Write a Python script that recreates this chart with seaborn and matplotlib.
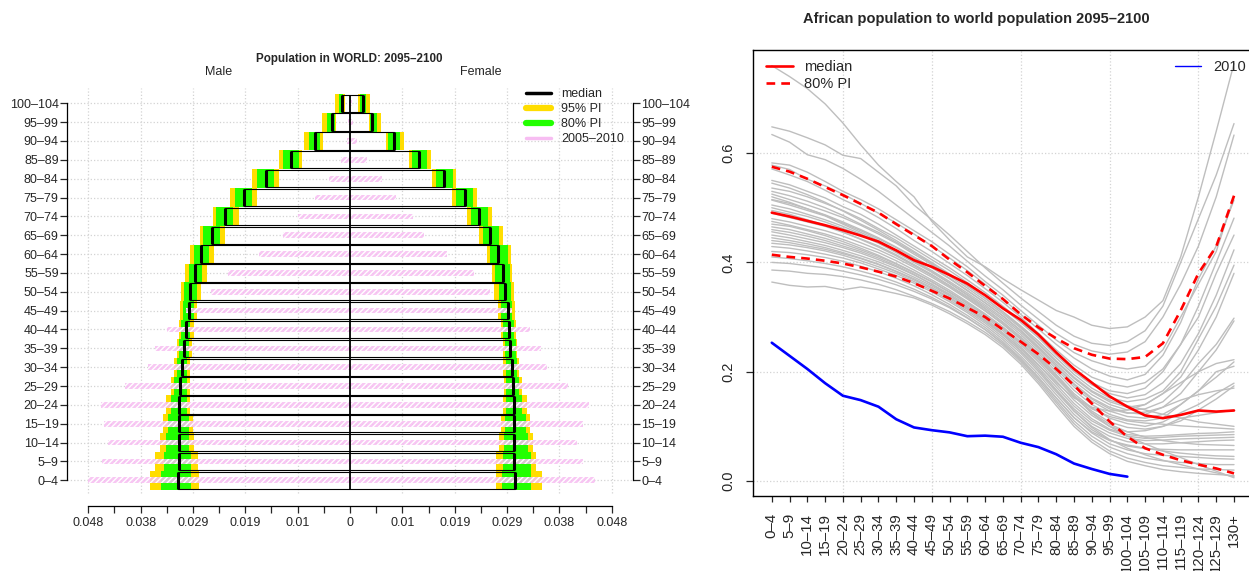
import numpy as np
import pandas as pd
import matplotlib
matplotlib.use("Agg")
import matplotlib.pyplot as plt
import seaborn as sns
from matplotlib.lines import Line2D

# ---------------- data: population pyramid (World, 2095-2100) ----------------
ages = ["0–4", "5–9", "10–14", "15–19", "20–24", "25–29", "30–34", "35–39",
        "40–44", "45–49", "50–54", "55–59", "60–64", "65–69", "70–74",
        "75–79", "80–84", "85–89", "90–94", "95–99", "100–104"]

male_median = [0.0315, 0.0313, 0.0313, 0.0313, 0.0313, 0.0312, 0.0308, 0.0305,
               0.0300, 0.0296, 0.0293, 0.0285, 0.0273, 0.0253, 0.0229, 0.0195,
               0.0154, 0.0108, 0.0064, 0.0033, 0.0015]
male_lo80 = [0.0291, 0.0291, 0.0295, 0.0296, 0.0299, 0.0299, 0.0299, 0.0296,
             0.0293, 0.0287, 0.0281, 0.0272, 0.0258, 0.0238, 0.0214, 0.0180,
             0.0140, 0.0094, 0.0055, 0.0028, 0.0012]
male_hi80 = [0.0346, 0.0341, 0.0338, 0.0334, 0.0329, 0.0323, 0.0318, 0.0313,
             0.0310, 0.0307, 0.0304, 0.0296, 0.0287, 0.0269, 0.0245, 0.0211,
             0.0171, 0.0122, 0.0076, 0.0042, 0.0021]
male_lo95 = [0.0277, 0.0278, 0.0286, 0.0288, 0.0294, 0.0294, 0.0294, 0.0290,
             0.0287, 0.0280, 0.0274, 0.0263, 0.0250, 0.0229, 0.0204, 0.0171,
             0.0131, 0.0088, 0.0050, 0.0025, 0.0010]
male_hi95 = [0.0367, 0.0357, 0.0348, 0.0343, 0.0337, 0.0328, 0.0323, 0.0318,
             0.0313, 0.0312, 0.0310, 0.0302, 0.0294, 0.0276, 0.0252, 0.0220,
             0.0179, 0.0131, 0.0084, 0.0051, 0.0027]

female_median = [0.0302, 0.0301, 0.0301, 0.0301, 0.0300, 0.0299, 0.0297, 0.0293,
                 0.0291, 0.0289, 0.0284, 0.0280, 0.0272, 0.0256, 0.0237, 0.0211,
                 0.0173, 0.0127, 0.0081, 0.0041, 0.0023]
female_lo80 = [0.0279, 0.0280, 0.0283, 0.0284, 0.0286, 0.0286, 0.0286, 0.0284,
               0.0281, 0.0277, 0.0274, 0.0266, 0.0257, 0.0243, 0.0222, 0.0194,
               0.0157, 0.0113, 0.0070, 0.0037, 0.0018]
female_hi80 = [0.0332, 0.0332, 0.0327, 0.0323, 0.0316, 0.0310, 0.0307, 0.0304,
               0.0300, 0.0298, 0.0295, 0.0294, 0.0289, 0.0274, 0.0253, 0.0225,
               0.0188, 0.0141, 0.0091, 0.0050, 0.0030]
female_lo95 = [0.0267, 0.0267, 0.0274, 0.0277, 0.0281, 0.0282, 0.0281, 0.0280,
               0.0277, 0.0271, 0.0264, 0.0260, 0.0251, 0.0237, 0.0215, 0.0187,
               0.0150, 0.0108, 0.0066, 0.0034, 0.0015]
female_hi95 = [0.0353, 0.0342, 0.0336, 0.0330, 0.0324, 0.0315, 0.0310, 0.0306,
               0.0304, 0.0303, 0.0301, 0.0298, 0.0295, 0.0280, 0.0261, 0.0233,
               0.0195, 0.0149, 0.0099, 0.0056, 0.0037]

male_2010 = [0.0481, 0.0455, 0.0443, 0.0452, 0.0457, 0.0412, 0.0370, 0.0357,
             0.0336, 0.0301, 0.0255, 0.0223, 0.0166, 0.0122, 0.0096, 0.0065,
             0.0038, 0.0017, 0.0006, 0.0003, 0.0001]
female_2010 = [0.0450, 0.0427, 0.0417, 0.0428, 0.0438, 0.0400, 0.0361, 0.0351,
               0.0331, 0.0298, 0.0257, 0.0228, 0.0177, 0.0136, 0.0116, 0.0085,
               0.0058, 0.0032, 0.0012, 0.0006, 0.0003]

# ---------------- data: African / world ratio ----------------
ages_long = ages + ["105–109", "110–114", "115–119", "120–124", "125–129", "130+"]

ratio_median = [0.491, 0.484, 0.476, 0.468, 0.459, 0.449, 0.438, 0.422, 0.404,
                0.392, 0.377, 0.361, 0.340, 0.316, 0.295, 0.268, 0.235, 0.205,
                0.180, 0.155, 0.136, 0.120, 0.115, 0.121, 0.129, 0.127, 0.129]
ratio_hi80 = [0.575, 0.566, 0.553, 0.538, 0.523, 0.507, 0.491, 0.470, 0.450,
              0.430, 0.405, 0.382, 0.357, 0.333, 0.305, 0.281, 0.261, 0.243,
              0.231, 0.224, 0.223, 0.227, 0.252, 0.312, 0.380, 0.429, 0.522]
ratio_lo80 = [0.414, 0.410, 0.407, 0.403, 0.398, 0.391, 0.383, 0.374, 0.362,
              0.348, 0.334, 0.317, 0.300, 0.277, 0.255, 0.232, 0.205, 0.175,
              0.142, 0.109, 0.081, 0.060, 0.048, 0.038, 0.030, 0.023, 0.014]
ratio_2010 = [0.253, 0.229, 0.205, 0.179, 0.156, 0.148, 0.136, 0.113, 0.098,
              0.093, 0.089, 0.082, 0.083, 0.081, 0.070, 0.062, 0.049, 0.032,
              0.022, 0.013, 0.008]

traj01 = [0.760, 0.740, 0.718, 0.690, 0.655, 0.615, 0.578, 0.548, 0.520, 0.475, 0.441, 0.410, 0.392, 0.370, 0.350, 0.331, 0.312, 0.300, 0.285, 0.279, 0.282, 0.300, 0.330, 0.410, 0.520, 0.640, 0.764]
traj02 = [0.648, 0.640, 0.628, 0.615, 0.596, 0.590, 0.565, 0.540, 0.505, 0.478, 0.450, 0.420, 0.390, 0.362, 0.335, 0.310, 0.285, 0.265, 0.252, 0.248, 0.255, 0.275, 0.320, 0.400, 0.480, 0.560, 0.654]
traj03 = [0.634, 0.620, 0.597, 0.588, 0.572, 0.552, 0.530, 0.505, 0.480, 0.455, 0.430, 0.402, 0.375, 0.350, 0.322, 0.296, 0.270, 0.250, 0.238, 0.232, 0.236, 0.255, 0.300, 0.360, 0.430, 0.520, 0.633]
traj04 = [0.582, 0.578, 0.565, 0.548, 0.530, 0.515, 0.498, 0.478, 0.458, 0.438, 0.415, 0.392, 0.365, 0.340, 0.312, 0.285, 0.258, 0.235, 0.220, 0.210, 0.205, 0.210, 0.240, 0.300, 0.360, 0.420, 0.520]
traj05 = [0.578, 0.570, 0.552, 0.540, 0.525, 0.508, 0.490, 0.472, 0.452, 0.430, 0.408, 0.385, 0.360, 0.333, 0.305, 0.278, 0.250, 0.225, 0.205, 0.192, 0.185, 0.195, 0.230, 0.290, 0.370, 0.430, 0.514]
traj06 = [0.571, 0.560, 0.548, 0.532, 0.515, 0.500, 0.482, 0.462, 0.440, 0.420, 0.398, 0.376, 0.352, 0.327, 0.300, 0.270, 0.240, 0.212, 0.190, 0.178, 0.172, 0.180, 0.205, 0.250, 0.320, 0.400, 0.481]
traj07 = [0.550, 0.542, 0.530, 0.518, 0.502, 0.488, 0.470, 0.450, 0.430, 0.410, 0.390, 0.368, 0.345, 0.320, 0.293, 0.265, 0.235, 0.205, 0.180, 0.165, 0.160, 0.170, 0.200, 0.250, 0.300, 0.380, 0.450]
traj08 = [0.536, 0.530, 0.520, 0.508, 0.495, 0.480, 0.462, 0.445, 0.425, 0.405, 0.385, 0.363, 0.340, 0.316, 0.290, 0.262, 0.230, 0.200, 0.176, 0.160, 0.152, 0.158, 0.180, 0.215, 0.270, 0.340, 0.423]
traj09 = [0.530, 0.522, 0.512, 0.500, 0.486, 0.470, 0.455, 0.437, 0.418, 0.398, 0.378, 0.357, 0.335, 0.310, 0.284, 0.256, 0.225, 0.195, 0.170, 0.152, 0.145, 0.150, 0.165, 0.200, 0.260, 0.320, 0.395]
traj10 = [0.525, 0.515, 0.505, 0.494, 0.482, 0.468, 0.452, 0.435, 0.415, 0.396, 0.375, 0.353, 0.330, 0.306, 0.280, 0.250, 0.218, 0.188, 0.163, 0.145, 0.135, 0.140, 0.160, 0.190, 0.240, 0.300, 0.380]
traj11 = [0.520, 0.510, 0.498, 0.486, 0.472, 0.458, 0.443, 0.427, 0.408, 0.390, 0.370, 0.348, 0.326, 0.302, 0.276, 0.246, 0.214, 0.183, 0.158, 0.140, 0.130, 0.132, 0.145, 0.175, 0.215, 0.250, 0.298]
traj12 = [0.514, 0.505, 0.495, 0.485, 0.470, 0.455, 0.440, 0.422, 0.404, 0.385, 0.365, 0.344, 0.322, 0.298, 0.272, 0.242, 0.210, 0.178, 0.152, 0.135, 0.125, 0.122, 0.135, 0.160, 0.200, 0.240, 0.293]
traj13 = [0.500, 0.492, 0.484, 0.474, 0.462, 0.450, 0.435, 0.418, 0.400, 0.382, 0.362, 0.341, 0.319, 0.295, 0.268, 0.238, 0.205, 0.172, 0.146, 0.128, 0.118, 0.115, 0.122, 0.140, 0.165, 0.190, 0.218]
traj14 = [0.490, 0.482, 0.474, 0.466, 0.455, 0.443, 0.430, 0.414, 0.396, 0.378, 0.358, 0.337, 0.315, 0.291, 0.264, 0.234, 0.200, 0.166, 0.140, 0.122, 0.112, 0.110, 0.115, 0.140, 0.165, 0.200, 0.210]
traj15 = [0.480, 0.474, 0.466, 0.458, 0.448, 0.436, 0.423, 0.408, 0.391, 0.373, 0.354, 0.333, 0.311, 0.287, 0.260, 0.229, 0.195, 0.160, 0.134, 0.115, 0.105, 0.100, 0.108, 0.125, 0.140, 0.160, 0.179]
traj16 = [0.475, 0.468, 0.460, 0.452, 0.442, 0.430, 0.418, 0.403, 0.386, 0.368, 0.349, 0.328, 0.306, 0.282, 0.255, 0.224, 0.189, 0.154, 0.128, 0.108, 0.098, 0.095, 0.100, 0.110, 0.130, 0.150, 0.174]
traj17 = [0.465, 0.460, 0.452, 0.444, 0.434, 0.423, 0.411, 0.397, 0.381, 0.364, 0.345, 0.325, 0.303, 0.278, 0.250, 0.218, 0.183, 0.148, 0.120, 0.100, 0.090, 0.092, 0.100, 0.115, 0.120, 0.125, 0.130]
traj18 = [0.456, 0.450, 0.443, 0.436, 0.427, 0.417, 0.405, 0.392, 0.377, 0.360, 0.342, 0.322, 0.300, 0.275, 0.246, 0.213, 0.177, 0.142, 0.114, 0.095, 0.085, 0.082, 0.083, 0.085, 0.087, 0.088, 0.090]
traj19 = [0.450, 0.445, 0.438, 0.431, 0.422, 0.412, 0.401, 0.388, 0.373, 0.357, 0.339, 0.319, 0.297, 0.271, 0.242, 0.208, 0.172, 0.137, 0.110, 0.093, 0.082, 0.078, 0.080, 0.082, 0.083, 0.084, 0.085]
traj20 = [0.440, 0.436, 0.430, 0.424, 0.416, 0.407, 0.396, 0.383, 0.368, 0.352, 0.334, 0.314, 0.292, 0.267, 0.238, 0.204, 0.167, 0.132, 0.105, 0.088, 0.078, 0.074, 0.075, 0.077, 0.078, 0.079, 0.080]
traj21 = [0.435, 0.432, 0.427, 0.421, 0.413, 0.403, 0.392, 0.380, 0.365, 0.349, 0.331, 0.311, 0.289, 0.263, 0.234, 0.200, 0.163, 0.128, 0.100, 0.082, 0.072, 0.068, 0.068, 0.070, 0.072, 0.074, 0.075]
traj22 = [0.429, 0.426, 0.421, 0.415, 0.408, 0.399, 0.388, 0.376, 0.362, 0.346, 0.328, 0.308, 0.285, 0.259, 0.229, 0.195, 0.158, 0.122, 0.094, 0.075, 0.064, 0.059, 0.058, 0.057, 0.057, 0.057, 0.057]
traj23 = [0.420, 0.418, 0.414, 0.409, 0.402, 0.393, 0.383, 0.371, 0.357, 0.341, 0.323, 0.303, 0.281, 0.255, 0.225, 0.190, 0.152, 0.116, 0.088, 0.068, 0.057, 0.050, 0.047, 0.045, 0.043, 0.041, 0.040]
traj24 = [0.410, 0.407, 0.403, 0.398, 0.392, 0.384, 0.375, 0.364, 0.351, 0.336, 0.319, 0.299, 0.277, 0.251, 0.221, 0.186, 0.147, 0.110, 0.082, 0.062, 0.050, 0.042, 0.037, 0.034, 0.032, 0.030, 0.030]
traj25 = [0.386, 0.384, 0.380, 0.378, 0.374, 0.368, 0.360, 0.350, 0.338, 0.325, 0.310, 0.292, 0.272, 0.248, 0.218, 0.182, 0.143, 0.105, 0.076, 0.055, 0.042, 0.034, 0.028, 0.025, 0.022, 0.021, 0.020]
traj26 = [0.364, 0.358, 0.355, 0.356, 0.350, 0.355, 0.350, 0.343, 0.335, 0.322, 0.306, 0.288, 0.268, 0.244, 0.214, 0.178, 0.138, 0.100, 0.071, 0.050, 0.036, 0.028, 0.021, 0.017, 0.014, 0.012, 0.010]
traj27 = [0.460, 0.455, 0.448, 0.440, 0.430, 0.420, 0.408, 0.394, 0.378, 0.360, 0.340, 0.318, 0.294, 0.268, 0.238, 0.204, 0.166, 0.128, 0.098, 0.076, 0.060, 0.048, 0.038, 0.030, 0.022, 0.015, 0.008]
traj28 = [0.505, 0.498, 0.488, 0.478, 0.466, 0.452, 0.437, 0.420, 0.402, 0.383, 0.362, 0.340, 0.316, 0.290, 0.262, 0.230, 0.194, 0.156, 0.124, 0.100, 0.082, 0.068, 0.055, 0.043, 0.030, 0.018, 0.006]
traj29 = [0.545, 0.536, 0.524, 0.510, 0.494, 0.477, 0.459, 0.440, 0.420, 0.400, 0.379, 0.357, 0.334, 0.309, 0.282, 0.252, 0.220, 0.190, 0.165, 0.148, 0.138, 0.130, 0.122, 0.115, 0.108, 0.104, 0.100]
traj30 = [0.470, 0.466, 0.458, 0.449, 0.438, 0.426, 0.413, 0.398, 0.382, 0.365, 0.346, 0.326, 0.304, 0.280, 0.253, 0.222, 0.188, 0.156, 0.132, 0.118, 0.110, 0.106, 0.104, 0.101, 0.099, 0.097, 0.095]
traj31 = [0.445, 0.440, 0.434, 0.427, 0.418, 0.408, 0.397, 0.384, 0.370, 0.354, 0.336, 0.316, 0.294, 0.270, 0.243, 0.212, 0.180, 0.152, 0.135, 0.128, 0.130, 0.140, 0.160, 0.180, 0.200, 0.215, 0.222]
traj32 = [0.495, 0.488, 0.478, 0.468, 0.456, 0.442, 0.428, 0.412, 0.394, 0.376, 0.356, 0.335, 0.312, 0.287, 0.259, 0.227, 0.191, 0.155, 0.125, 0.104, 0.090, 0.080, 0.074, 0.070, 0.067, 0.066, 0.065]
traj33 = [0.515, 0.508, 0.498, 0.487, 0.474, 0.460, 0.445, 0.428, 0.410, 0.391, 0.371, 0.349, 0.326, 0.302, 0.275, 0.244, 0.210, 0.176, 0.150, 0.132, 0.124, 0.126, 0.135, 0.148, 0.158, 0.165, 0.170]
traj34 = [0.400, 0.398, 0.394, 0.390, 0.384, 0.377, 0.369, 0.359, 0.347, 0.333, 0.317, 0.298, 0.277, 0.252, 0.223, 0.189, 0.152, 0.116, 0.090, 0.074, 0.066, 0.060, 0.055, 0.051, 0.048, 0.046, 0.045]

trajectories = [traj01, traj02, traj03, traj04, traj05, traj06, traj07, traj08,
                traj09, traj10, traj11, traj12, traj13, traj14, traj15, traj16,
                traj17, traj18, traj19, traj20, traj21, traj22, traj23, traj24,
                traj25, traj26, traj27, traj28, traj29, traj30, traj31, traj32,
                traj33, traj34]

GOLD = "#FFDD00"
GREEN = "#22FF00"
PINK = "#F7BDF2"
GRID = "#D3D3D3"

sns.set_style("white")
plt.rcParams["font.family"] = ["Liberation Sans", "DejaVu Sans"]

W, H = 1249, 571
fig = plt.figure(figsize=(W / 100, H / 100), dpi=100)
axl = fig.add_axes([67 / W, 1 - 505.7 / H, (633 - 67) / W, (505.7 - 88) / H])
axr = fig.add_axes([753.3 / W, 1 - 495.5 / H, (1252.5 - 753.3) / W, (495.5 - 50) / H])

# ================= left: pyramid =================
ypos = np.arange(len(ages))
m_med, f_med = np.array(male_median), np.array(female_median)
xmax = 0.0519

for k in range(1, 6):
    for s in (-1, 1):
        axl.plot([s * k * 0.0096] * 2, [-0.67, 20.8], color=GRID, ls=":", lw=0.9, zorder=0)
for y in ypos:
    axl.plot([-xmax, xmax], [y, y], color=GRID, ls=":", lw=0.9, zorder=0)

# 95% and 80% intervals
axl.barh(ypos, np.subtract(male_hi95, male_lo95), left=-np.array(male_hi95),
         height=1.0, color=GOLD, lw=0, zorder=1)
axl.barh(ypos, np.subtract(female_hi95, female_lo95), left=female_lo95,
         height=1.0, color=GOLD, lw=0, zorder=1)
axl.barh(ypos, np.subtract(male_hi80, male_lo80), left=-np.array(male_hi80),
         height=1.0, color=GREEN, lw=0, zorder=2)
axl.barh(ypos, np.subtract(female_hi80, female_lo80), left=female_lo80,
         height=1.0, color=GREEN, lw=0, zorder=2)

# median boxes
axl.barh(ypos, m_med + f_med, left=-m_med, height=0.92, facecolor="none",
         edgecolor="black", lw=0.8, zorder=3)

# 2005-2010 observed
w10 = np.add(male_2010, female_2010)
axl.barh(ypos, w10, left=-np.array(male_2010), height=0.3, color=PINK,
         alpha=0.85, lw=0, zorder=4)
axl.barh(ypos, w10, left=-np.array(male_2010), height=0.3, facecolor="none",
         edgecolor="white", hatch="//////", lw=0, zorder=4)

axl.vlines(-m_med, ypos - 0.46, ypos + 0.46, color="black", lw=2.2, zorder=5)
axl.vlines(f_med, ypos - 0.46, ypos + 0.46, color="black", lw=2.2, zorder=5)
axl.vlines(0, -0.46, 20.46, color="black", lw=1.3, zorder=5)

axl.set_xlim(-xmax, xmax)
axl.set_ylim(-1.347, 20.81)
xt = np.arange(-10, 11) * 0.0048
axl.set_xticks(xt)
axl.set_xticklabels([f"{round(abs(v), 3):g}" if i % 2 == 0 else "" for i, v in enumerate(xt)])
axl.set_yticks(ypos)
axl.set_yticklabels(ages)
axl.tick_params(axis="y", left=True, right=True, labelleft=True, labelright=True,
                length=5, width=0.9, pad=1, labelsize=9)
axl.tick_params(axis="x", bottom=True, length=5, width=0.9, pad=3, labelsize=9)
axl.spines["top"].set_visible(False)
for sp in ("left", "right"):
    axl.spines[sp].set_bounds(0, 20)
axl.spines["bottom"].set_bounds(-0.048, 0.048)
for sp in ("left", "right", "bottom"):
    axl.spines[sp].set_color("black")
    axl.spines[sp].set_linewidth(0.9)

handles = [Line2D([], [], color="black", lw=2.5),
           Line2D([], [], color=GOLD, lw=4.5),
           Line2D([], [], color=GREEN, lw=4.5),
           Line2D([], [], color=PINK, lw=2.5)]
axl.legend(handles, ["median", "95% PI", "80% PI", "2005–2010"], loc="upper left",
           bbox_to_anchor=(526 / W, 1 - 88 / H), bbox_transform=fig.transFigure,
           frameon=False, fontsize=9, handlelength=2.0, handletextpad=0.8,
           labelspacing=0.25, borderpad=0, borderaxespad=0)

fig.text(349.5 / W, 1 - 59 / H, "Population in WORLD: 2095–2100", ha="center",
         va="center", fontsize=8.4, fontweight="bold")
fig.text(219 / W, 1 - 72 / H, "Male", ha="center", va="center", fontsize=9)
fig.text(480.5 / W, 1 - 72 / H, "Female", ha="center", va="center", fontsize=9)

# ================= right: ratio trajectories =================
xpos = np.arange(len(ages_long))
df = pd.DataFrame({
    "pos": np.tile(xpos, len(trajectories)),
    "ratio": np.concatenate(trajectories),
    "traj": np.repeat(np.arange(len(trajectories)), len(xpos)),
})
for v in (0, 0.2, 0.4, 0.6):
    axr.axhline(v, color=GRID, ls=":", lw=0.9, zorder=0)
for v in (4, 9, 14, 19, 24):
    axr.axvline(v, color=GRID, ls=":", lw=0.9, zorder=0)

sns.lineplot(data=df, x="pos", y="ratio", units="traj", estimator=None,
             color="#BEBEBE", lw=1, ax=axr, legend=False, zorder=1)
sns.lineplot(x=xpos, y=ratio_median, color="red", lw=1.9, ax=axr, zorder=3)
for band in (ratio_hi80, ratio_lo80):
    axr.plot(xpos, band, color="red", lw=1.9, dashes=(3.3, 2.3), zorder=3)
sns.lineplot(x=xpos[:len(ratio_2010)], y=ratio_2010, color="blue", lw=1.9, ax=axr, zorder=3)

axr.set_xlim(-1.04, 27.04)
axr.set_ylim(-0.0265, 0.7886)
axr.set_xticks(xpos)
axr.set_xticklabels(ages_long, rotation=90, va="top", ha="center")
axr.set_yticks([0, 0.2, 0.4, 0.6])
axr.set_yticklabels(["0.0", "0.2", "0.4", "0.6"], rotation=90, va="center")
axr.tick_params(axis="x", bottom=True, length=4.5, width=0.9, pad=8, labelsize=10.8)
axr.tick_params(axis="y", left=True, length=5, width=0.9, pad=8, labelsize=10.5)
axr.set_xlabel("")
axr.set_ylabel("")
for sp in ("left", "bottom", "top"):
    axr.spines[sp].set_color("black")
    axr.spines[sp].set_linewidth(1)
axr.spines["right"].set_visible(False)

leg1 = axr.legend([Line2D([], [], color="red", lw=1.9),
                   Line2D([], [], color="red", lw=1.9, dashes=(3.3, 2.3))],
                  ["median", "80% PI"], loc="upper left",
                  bbox_to_anchor=(766 / W, 1 - 60 / H), bbox_transform=fig.transFigure,
                  frameon=False, fontsize=10.5, handlelength=1.85, handletextpad=0.75,
                  labelspacing=0.2, borderpad=0, borderaxespad=0)
axr.add_artist(leg1)
axr.legend([Line2D([], [], color="blue", lw=1)], ["2010"], loc="upper left",
           bbox_to_anchor=(1175 / W, 1 - 60 / H), bbox_transform=fig.transFigure,
           frameon=False, fontsize=10.5, handlelength=1.8, handletextpad=0.85,
           borderpad=0, borderaxespad=0)

fig.text(976 / W, 1 - 19 / H, "African population to world population 2095–2100",
         ha="center", va="center", fontsize=10.5, fontweight="bold")

fig.savefig("out.png", dpi=100)
